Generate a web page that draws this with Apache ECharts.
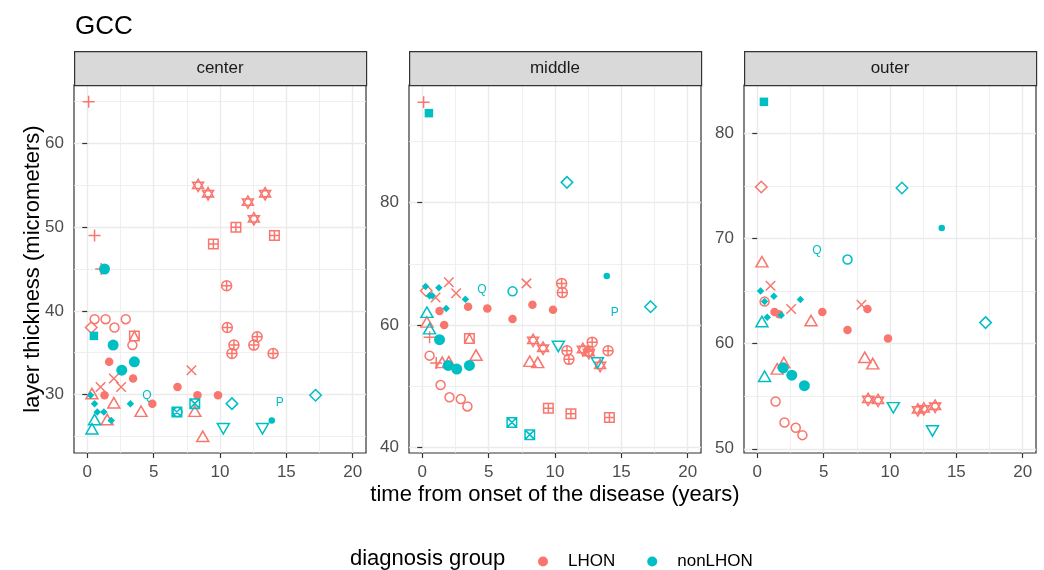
<!DOCTYPE html>
<html>
<head>
<meta charset="utf-8">
<title>GCC</title>
<script src="https://cdn.jsdelivr.net/npm/echarts@6/dist/echarts.min.js"></script>
<style>
  html, body { margin: 0; padding: 0; background: #fff; }
  #chart { width: 1044px; height: 570px; }
</style>
</head>
<body>
<div id="chart"></div>
<script>
// facets and their y ranges
const panels = ['center', 'middle', 'outer'];
const xTicks = [0, 5, 10, 15, 20];
const xMinor = [2.5, 7.5, 12.5, 17.5];
const yTicks = [[30, 40, 50, 60], [40, 60, 80], [50, 60, 70, 80]];
const yMinor = [[25, 35, 45, 55, 65], [50, 70, 90], [55, 65, 75]];
const yRange = [[23, 67], [39.1, 99.2], [49.6, 84.6]];

// one array per patient, rows: [time, center, middle, outer]
// LHON
const lhonPlus = [[0.1, 65.0, 96.4, null], [0.55, 49.0, 58.0, null], [1.05, 45.0, 53.8, null]];
const lhonOpenCircle = [[0.55, 39.0, 55.0, 64.0], [1.38, 39.0, 50.2, 54.5], [2.05, 38.0, 48.2, 52.5], [2.9, 39.0, 47.9, 52.0], [3.4, 35.9, 46.7, 51.3]];
const lhonDiamond = [[0.3, 38.0, 65.6, 74.9]];
const lhonSquareTri = [[3.55, 37.0, 57.8, null]];
const lhonDot = [[1.3, 29.9, 62.3, 63.0], [1.65, 33.9, 60.0, 62.8], [3.45, 31.9, 63.0, null], [4.9, 28.9, 62.7, 63.0], [6.8, 30.9, 61.0, 61.3], [8.3, 29.9, 63.3, 63.3], [9.85, 29.9, 62.5, 60.5]];
const lhonCross = [[1.0, 30.9, 64.5, 65.5], [2.0, 31.9, 67.0, null], [2.55, 30.9, 65.2, 63.3], [7.85, 32.9, 66.8, 63.7]];
const lhonTriangle = [[0.35, 30.1, 60.5, 67.8], [1.5, 27.0, 53.9, 57.6], [2.0, 29.0, 54.0, 58.2], [4.05, 28.0, 55.1, 62.2], [8.1, 28.0, 54.1, 58.7], [8.7, 25.0, 53.9, 58.1]];
const lhonStar = [[8.35, 55.0, 57.5, 54.7], [9.1, 54.0, 56.2, 54.6], [12.1, 53.0, 56.0, 53.7], [12.55, 51.0, 55.5, 53.8], [13.4, 54.0, 53.4, 54.05]];
const lhonSquarePlus = [[9.5, 48.0, 46.4, null], [11.2, 50.0, 45.5, null], [14.1, 49.0, 44.9, null]];
const lhonCirclePlus = [[10.5, 43.0, 66.8, null], [10.55, 38.0, 65.3, null], [10.9, 34.9, 55.8, null], [11.05, 35.9, 54.4, null], [12.55, 35.9, 55.7, null], [12.8, 36.9, 57.2, null], [14.0, 34.9, 55.8, null]];
// nonLHON
const nonSquare = [[0.5, 37.0, 94.6, 83.0]];
const nonBigDot = [[1.3, 45.0, 57.6, null], [1.95, 35.9, 53.4, 57.7], [2.6, 32.9, 52.8, 57.0], [3.55, 33.9, 53.4, 56.0]];
const nonSmallDiamond = [[0.25, 29.9, 66.3, 65.0], [0.55, 28.9, 64.8, 64.0], [0.75, 27.9, 64.8, 62.5], [1.25, 27.9, 66.1, 64.5], [1.8, 26.9, 62.7, 62.7], [3.25, 28.9, 64.2, 64.2]];
const nonTriangle = [[0.35, 25.9, 62.1, 62.1], [0.55, 27.0, 59.4, 56.9]];
const nonOpenCircle = [[6.8, 27.9, 65.5, 68.0]];
const nonQ = [[4.5, 29.9, 65.7, 68.8]];
const nonP = [[14.5, 29.0, 62.0, null]];
const nonDiamond = [[10.9, 28.9, 83.3, 74.8], [17.2, 29.9, 63.0, 62.0]];
const nonSquareX = [[6.75, 27.9, 44.1, null], [8.1, 28.9, 42.1, null]];
const nonDownTri = [[10.25, 25.9, 56.5, 53.9], [13.2, 25.9, 53.8, 51.7]];
const nonSmallDot = [[13.9, 26.9, 68.0, 71.0]];

const groups = [
  { name: 'LHON', color: '#F8766D', patients: [
    ['plus', lhonPlus], ['openCircle', lhonOpenCircle], ['diamond', lhonDiamond],
    ['squareTri', lhonSquareTri], ['dot', lhonDot], ['cross', lhonCross],
    ['triangle', lhonTriangle], ['star', lhonStar], ['squarePlus', lhonSquarePlus],
    ['circlePlus', lhonCirclePlus]] },
  { name: 'nonLHON', color: '#00BFC4', patients: [
    ['square', nonSquare], ['bigDot', nonBigDot], ['smallDiamond', nonSmallDiamond],
    ['triangle', nonTriangle], ['openCircle', nonOpenCircle], ['Q', nonQ], ['P', nonP],
    ['diamond', nonDiamond], ['squareX', nonSquareX], ['downTri', nonDownTri],
    ['smallDot', nonSmallDot]] }
];

// ggplot-like point shapes
const shapes = {
  openCircle: { symbol: 'circle', size: 9, open: true },
  dot: { symbol: 'circle', size: 8.5 },
  bigDot: { symbol: 'circle', size: 11 },
  smallDot: { symbol: 'circle', size: 6.5 },
  square: { symbol: 'rect', size: 8.5 },
  smallDiamond: { symbol: 'diamond', size: 7.5 },
  triangle: { symbol: 'path://M0 -1 L0.866 0.5 L-0.866 0.5 Z', size: [12, 10.4], open: true },
  downTri: { symbol: 'path://M0 1 L0.866 -0.5 L-0.866 -0.5 Z', size: [12, 10.4], open: true },
  diamond: { symbol: 'path://M0 -1 L1 0 L0 1 L-1 0 Z', size: 11.5, open: true },
  plus: { symbol: 'path://M0 -1 L0 1 M-1 0 L1 0', size: 12, open: true },
  cross: { symbol: 'path://M-1 -1 L1 1 M-1 1 L1 -1', size: 9.5, open: true },
  squareTri: { symbol: 'path://M-1 -1 L1 -1 L1 1 L-1 1 Z M-1 1 L0 -1 L1 1', size: 9.5, open: true },
  star: { symbol: 'path://M0 -1.1 L0.95 0.55 L-0.95 0.55 Z M0 1.1 L0.95 -0.55 L-0.95 -0.55 Z', size: [11, 12.5], open: true },
  squarePlus: { symbol: 'path://M-1 -1 L1 -1 L1 1 L-1 1 Z M0 -1 L0 1 M-1 0 L1 0', size: 9.5, open: true },
  circlePlus: { symbol: 'path://M-1 0 A1 1 0 1 1 1 0 A1 1 0 1 1 -1 0 Z M-1 0 L1 0 M0 -1 L0 1', size: 10, open: true },
  squareX: { symbol: 'path://M-1 -1 L1 -1 L1 1 L-1 1 Z M-1 -1 L1 1 M-1 1 L1 -1', size: 9.5, open: true },
  Q: { letter: 'Q' },
  P: { letter: 'P' }
};

const font = '"Liberation Sans", Arial, sans-serif';

function makeItem(row, p, shapeName, color) {
  const y = row[p + 1];
  if (y == null) return null;
  const s = shapes[shapeName];
  if (s.letter) {
    return {
      value: [row[0], y], symbol: 'circle', symbolSize: 1,
      itemStyle: { color: 'rgba(0,0,0,0)', opacity: 1 },
      label: { show: true, position: 'inside', formatter: s.letter, color: color, fontSize: 12, fontFamily: font }
    };
  }
  return {
    value: [row[0], y],
    symbol: s.symbol,
    symbolSize: s.size,
    itemStyle: s.open
      ? { color: 'rgba(0,0,0,0)', borderColor: color, borderWidth: 1.5, opacity: 1 }
      : { color: color, borderWidth: 0, opacity: 1 }
  };
}

const grids = [], xAxes = [], yAxes = [], series = [], graphics = [];

panels.forEach(function (name, p) {
  const left = 74 + p * 335;
  grids.push({ left: left, top: 85, width: 292, height: 368, show: true,
    borderColor: '#333333', borderWidth: 1.2, backgroundColor: 'transparent',
    containLabel: false, outerBoundsMode: 'none' });

  // major axis + hidden minor axis for the thinner grid lines
  xAxes.push({
    type: 'value', gridIndex: p, min: -1, max: 21, position: 'bottom',
    axisLine: { show: false },
    axisTick: { show: true, length: 5, customValues: xTicks, lineStyle: { color: '#333333', width: 1.2 } },
    axisLabel: { customValues: xTicks, margin: 11, fontSize: 17, color: '#4D4D4D', fontFamily: font },
    splitLine: { show: true, lineStyle: { color: '#EBEBEB', width: 1.4 } },
    name: p === 1 ? 'time from onset of the disease (years)' : '',
    nameLocation: 'middle', nameGap: 31, nameMoveOverlap: false,
    nameTextStyle: { fontSize: 22, color: '#000', fontFamily: font }
  });
  xAxes.push({
    type: 'value', gridIndex: p, min: -1, max: 21, position: 'top',
    axisLine: { show: false },
    axisTick: { show: false, customValues: xMinor },
    axisLabel: { show: false, customValues: xMinor },
    splitLine: { show: true, lineStyle: { color: '#EBEBEB', width: 0.8 } }
  });
  yAxes.push({
    type: 'value', gridIndex: p, min: yRange[p][0], max: yRange[p][1], position: 'left',
    axisLine: { show: false },
    axisTick: { show: true, length: 5, customValues: yTicks[p], lineStyle: { color: '#333333', width: 1.2 } },
    axisLabel: { customValues: yTicks[p], margin: 10, fontSize: 17, color: '#4D4D4D', fontFamily: font },
    splitLine: { show: true, lineStyle: { color: '#EBEBEB', width: 1.4 } },
    name: p === 0 ? 'layer thickness (micrometers)' : '',
    nameLocation: 'middle', nameGap: 30, nameRotate: 90, nameMoveOverlap: false,
    nameTextStyle: { fontSize: 22, color: '#000', fontFamily: font }
  });
  yAxes.push({
    type: 'value', gridIndex: p, min: yRange[p][0], max: yRange[p][1], position: 'right',
    axisLine: { show: false },
    axisTick: { show: false, customValues: yMinor[p] },
    axisLabel: { show: false, customValues: yMinor[p] },
    splitLine: { show: true, lineStyle: { color: '#EBEBEB', width: 0.8 } }
  });

  groups.forEach(function (g) {
    const data = [];
    g.patients.forEach(function (pt) {
      pt[1].forEach(function (row) {
        const item = makeItem(row, p, pt[0], g.color);
        if (item) data.push(item);
      });
    });
    series.push({
      type: 'scatter', name: g.name, xAxisIndex: 2 * p, yAxisIndex: 2 * p,
      itemStyle: { color: g.color, opacity: 1 }, data: data, z: 3
    });
  });

  // facet strip
  graphics.push({ type: 'rect', left: left, top: 51, z: 10,
    shape: { width: 292, height: 34 },
    style: { fill: '#D9D9D9', stroke: '#333333', lineWidth: 1.2 } });
  graphics.push({ type: 'text', x: left + 146, y: 68, z: 11,
    style: { text: name, fill: '#1A1A1A', font: '17px ' + font, textAlign: 'center', textVerticalAlign: 'middle' } });
});

graphics.push({ type: 'text', x: 350, y: 559,
  style: { text: 'diagnosis group', fill: '#000', font: '22px ' + font, textVerticalAlign: 'middle' } });

const chart = echarts.init(document.getElementById('chart'), null, { renderer: 'canvas' });
chart.setOption({
  animation: false,
  backgroundColor: '#ffffff',
  title: { text: 'GCC', left: 70, top: 9, textStyle: { fontSize: 26, fontWeight: 'normal', color: '#000', fontFamily: font } },
  legend: {
    left: 533, top: 548, orient: 'horizontal', itemWidth: 40, itemHeight: 10, itemGap: 32,
    data: [{ name: 'LHON', icon: 'circle' }, { name: 'nonLHON', icon: 'circle' }],
    textStyle: { fontSize: 17, color: '#000', fontFamily: font }
  },
  grid: grids,
  xAxis: xAxes,
  yAxis: yAxes,
  series: series,
  graphic: graphics
});
</script>
</body>
</html>
